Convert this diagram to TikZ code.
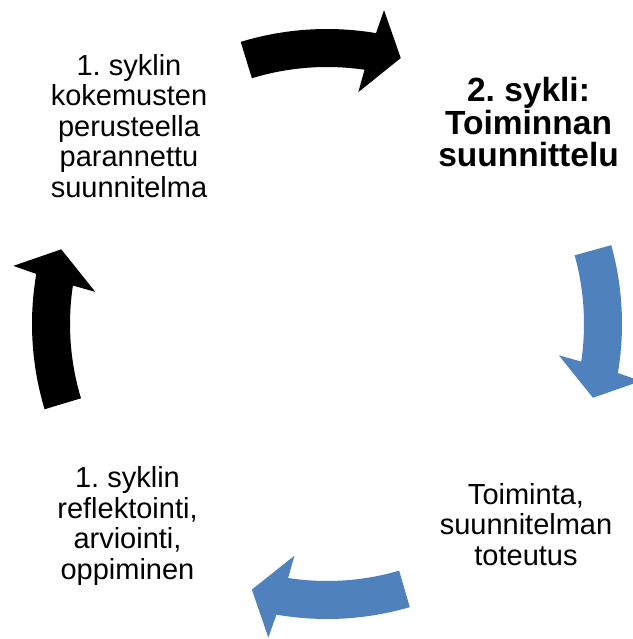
\documentclass[tikz,border=0pt]{standalone}
\usepackage{fontspec}
\setmainfont{Liberation Sans}
\frenchspacing
\definecolor{accentblue}{HTML}{4F81BD}
\newcommand\cyclearrow[3]{% fill colour, tail angle, tip angle
  \pgfmathsetmacro\ArwBase{#3+6.5}
  \pgfmathsetmacro\ArwShO{\ArwBase-0.57}
  \pgfmathsetmacro\ArwShI{\ArwBase+0.6}
  \pgfmathsetmacro\ArwBbO{\ArwBase-1.3}
  \pgfmathsetmacro\ArwBbI{\ArwBase+1.3}
  \fill[#1] (#2:295pt) arc[start angle=#2, end angle=\ArwShO, radius=295pt]
    -- (\ArwBbO:319pt) -- (#3:276pt) -- (\ArwBbI:234pt) -- (\ArwShI:257pt)
    arc[start angle=\ArwShI, end angle=#2, radius=257pt] -- cycle;
}
\tikzset{
  lbl/.style={align=center, anchor=base, inner sep=0pt, font=\frenchspacing\fontsize{29}{30.5}\selectfont},
  boldlbl/.style={align=center, anchor=base, inner sep=0pt, font=\frenchspacing\bfseries\fontsize{33.5}{32.5}\selectfont}
}
\begin{document}
\begin{tikzpicture}[x=1pt,y=1pt]
  \useasboundingbox (0,0) rectangle (632,-639);
  \begin{scope}[shift={(327,-324)}]
    \cyclearrow{black}{107}{74.5}
    \cyclearrow{accentblue}{15.5}{-15.5}
    \cyclearrow{accentblue}{-73.7}{-105.8}
    \cyclearrow{black}{196.8}{164.3}
  \end{scope}
  % base anchor of a multi-line node: baseline of its last line
  \node[lbl] (prev) at (129,-197) {1. syklin\\kokemusten\\perusteella\\parannettu\\suunnitelma};
  \node[boldlbl] (plan) at (528.5,-167) {2. sykli:\\Toiminnan\\suunnittelu};
  \node[lbl] (act) at (526,-565) {Toiminta,\\suunnitelman\\toteutus};
  \node[lbl] (refl) at (127.5,-579) {1. syklin\\reflektointi,\\arviointi,\\oppiminen};
\end{tikzpicture}
\end{document}
